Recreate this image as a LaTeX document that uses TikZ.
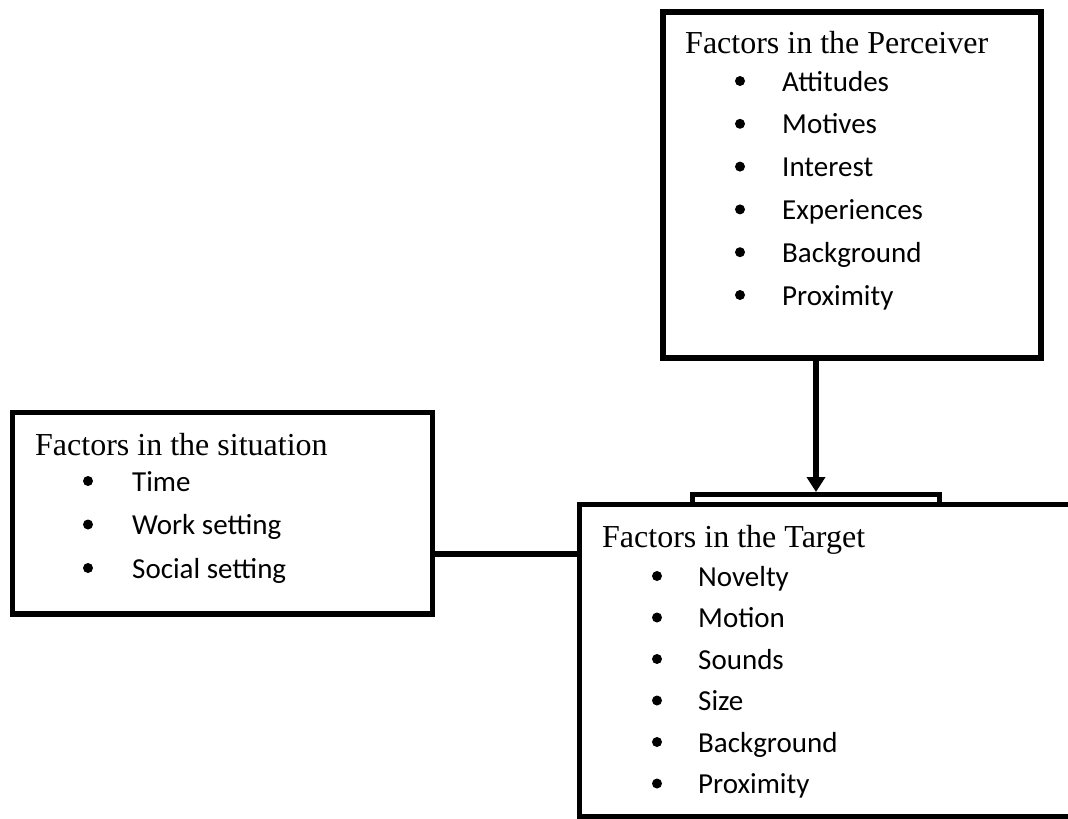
\documentclass[tikz,border=0pt]{standalone}
\usepackage{fontspec}
\setmainfont{Liberation Serif}
\newfontfamily\itemfont{Carlito}
\usetikzlibrary{arrows.meta}
\begin{document}
\begin{tikzpicture}[x=1pt,y=-1pt,
  frame/.style={draw=black,line width=5.5pt,inner sep=0pt,outer sep=0pt,anchor=north west},
  heading/.style={anchor=base west,inner sep=0pt,font=\fontsize{32}{38}\selectfont},
  entry/.style={anchor=base west,inner sep=0pt,font=\itemfont\fontsize{29}{35}\selectfont},
  dot/.style={circle,fill=black,inner sep=0pt,minimum size=10pt},
  link/.style={draw=black,line width=5.5pt}]
\clip (0,0) rectangle (1068,819);
\fill[white] (0,0) rectangle (1068,819);

% boxes
\node[frame,line width=6pt,minimum width=378pt,minimum height=346pt] (perc) at (663,12) {};
\node[frame,minimum width=420pt,minimum height=201.5pt] (sit) at (12.5,412.5) {};
\node[frame,line width=5pt,minimum width=247pt,minimum height=10pt] (tab) at (692.5,494.5) {};
\node[frame,minimum width=520pt,minimum height=312.5pt] (targ) at (579.5,504.5) {};

% connectors
\coordinate (joint) at (0,554);
\draw[link,shorten >=2.5pt,-{Triangle[width=18pt,length=15pt]}] (tab.north |- perc.south) -- (tab.north);
\draw[link] (sit.east |- joint) -- (targ.west |- joint);

% perceiver
\node[heading] (ph) at (685,53) {Factors in the Perceiver};
\foreach \t [count=\i] in {Attitudes,Motives,Interest,Experiences,Background,Proximity} {
  \node[dot] (pd\i) at (740,{91+42.8*(\i-1)-10}) {};
  \node[entry] (pi\i) at (782,{91+42.8*(\i-1)}) {\t};
}

% situation
\node[heading] (sh) at (35,455) {Factors in the situation};
\foreach \t [count=\i] in {Time,Work setting,Social setting} {
  \node[dot] (sd\i) at (88,{491+43.5*(\i-1)-10}) {};
  \node[entry] (si\i) at (132,{491+43.5*(\i-1)}) {\t};
}

% target
\node[heading] (th) at (602,547) {Factors in the Target};
\foreach \t [count=\i] in {Novelty,Motion,Sounds,Size,Background,Proximity} {
  \node[dot] (td\i) at (657,{586+41.5*(\i-1)-10}) {};
  \node[entry] (ti\i) at (698,{586+41.5*(\i-1)}) {\t};
}
\end{tikzpicture}
\end{document}
